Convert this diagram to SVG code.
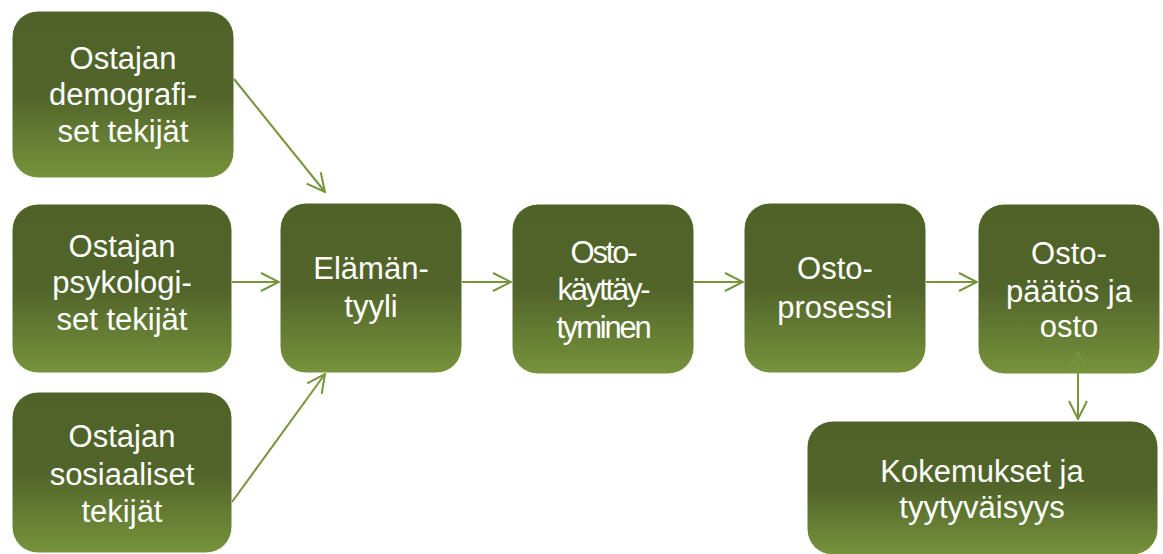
<svg xmlns="http://www.w3.org/2000/svg" width="1163" height="554" viewBox="0 0 1163 554">
<defs>
<linearGradient id="g" x1="0" y1="0" x2="0" y2="1">
<stop offset="0" stop-color="#4f6228"/>
<stop offset="0.5" stop-color="#51642a"/>
<stop offset="1" stop-color="#77933c"/>
</linearGradient>
<marker id="ah" viewBox="0 0 20 20" refX="19" refY="10" markerWidth="20" markerHeight="20" markerUnits="userSpaceOnUse" orient="auto-start-reverse">
<path d="M1,1 L19,10 L1,19" fill="none" stroke="#77933c" stroke-width="2"/>
</marker>
<style>
.box{fill:url(#g);stroke:#ffffff;stroke-width:1}
.t{font-family:"Liberation Sans",Arial,sans-serif;font-size:31px;fill:#ffffff;text-anchor:middle}
.c{letter-spacing:-2.2px}
.e{stroke:#77933c;stroke-width:2;fill:none;marker-end:url(#ah)}
</style>
</defs>
<rect width="1163" height="554" fill="#ffffff"/>
<g id="n1"><rect class="box" x="12" y="11" width="222" height="167" rx="26"/>
<text class="t"><tspan x="123" y="69">Ostajan</tspan><tspan x="123" y="105">demografi-</tspan><tspan x="123" y="142">set tekijät</tspan></text></g>
<g id="n2"><rect class="box" x="12" y="204" width="220" height="169" rx="26"/>
<text class="t"><tspan x="122" y="257">Ostajan</tspan><tspan x="122" y="293">psykologi-</tspan><tspan x="122" y="330">set tekijät</tspan></text></g>
<g id="n3"><rect class="box" x="12" y="392" width="220" height="161" rx="26"/>
<text class="t"><tspan x="122" y="447">Ostajan</tspan><tspan x="122" y="485">sosiaaliset</tspan><tspan x="122" y="522">tekijät</tspan></text></g>
<g id="n4"><rect class="box" x="280" y="203" width="182" height="170" rx="26"/>
<text class="t"><tspan x="371" y="279">Elämän-</tspan><tspan x="371" y="317">tyyli</tspan></text></g>
<g id="n5"><rect class="box" x="512" y="204" width="182" height="170" rx="26"/>
<text class="t c"><tspan x="603" y="263">Osto-</tspan><tspan x="603" y="300">käyttäy-</tspan><tspan x="603" y="338">tyminen</tspan></text></g>
<g id="n6"><rect class="box" x="744" y="203" width="182" height="170" rx="26"/>
<text class="t"><tspan x="835" y="279">Osto-</tspan><tspan x="835" y="318">prosessi</tspan></text></g>
<g id="n7"><rect class="box" x="978" y="204" width="182" height="170" rx="26"/>
<text class="t"><tspan x="1069" y="264">Osto-</tspan><tspan x="1069" y="302">päätös ja</tspan><tspan x="1069" y="337">osto</tspan></text></g>
<g id="n8"><rect class="box" x="807" y="421" width="351" height="134" rx="26"/>
<text class="t"><tspan x="982" y="482">Kokemukset ja</tspan><tspan x="982" y="518">tyytyväisyys</tspan></text></g>
<g id="connectors">
<line class="e" x1="234" y1="79" x2="325" y2="192"/>
<line class="e" x1="232" y1="282" x2="279" y2="282"/>
<line class="e" x1="232" y1="502" x2="325" y2="374"/>
<line class="e" x1="462" y1="282" x2="511" y2="282"/>
<line class="e" x1="694" y1="282" x2="743" y2="282"/>
<line class="e" x1="926" y1="282" x2="977" y2="282"/>
<line class="e" x1="1078" y1="352" x2="1078" y2="419" style="marker-start:url(#ah)"/>
</g>
</svg>
